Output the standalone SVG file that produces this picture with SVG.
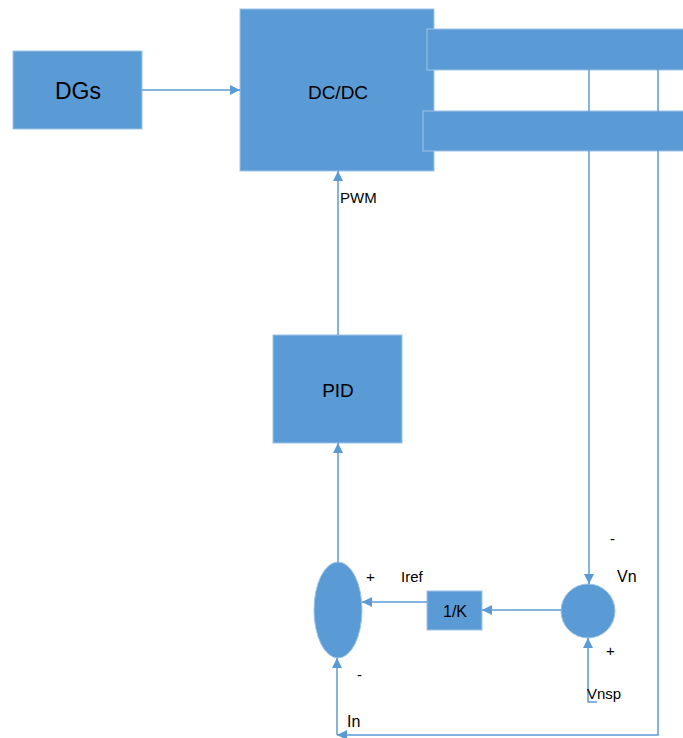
<svg xmlns="http://www.w3.org/2000/svg" width="683" height="738" viewBox="0 0 683 738">
<style>
.blk{fill:#5B9BD5;stroke:#9DC3E6;stroke-width:1}
.ln{fill:none;stroke:#5B9BD5;stroke-width:1.5}
.t{font-family:"Liberation Sans",Arial,sans-serif;fill:#000}
</style>
<defs>
<marker id="ah" viewBox="0 0 10 10" refX="10" refY="5" markerWidth="10" markerHeight="10" markerUnits="userSpaceOnUse" orient="auto">
<path d="M0,0 L10,5 L0,10 Z" fill="#5B9BD5"/>
</marker>
</defs>
<rect width="683" height="738" fill="#fff"/>
<g id="dgs"><rect class="blk" x="13" y="51" width="129" height="78"/><text class="t" x="78" y="99" font-size="23" text-anchor="middle">DGs</text></g>
<g id="dcdc"><rect class="blk" x="240" y="9" width="194" height="162"/><text class="t" x="338" y="99" font-size="19" text-anchor="middle">DC/DC</text></g>
<g id="bus1"><rect class="blk" x="427" y="29" width="260" height="41"/></g>
<g id="bus2"><rect class="blk" x="423" y="111" width="264" height="40"/></g>
<g id="pid"><rect class="blk" x="273" y="335" width="129" height="108"/><text class="t" x="338" y="397" font-size="19" text-anchor="middle">PID</text></g>
<g id="sum1"><ellipse class="blk" cx="338" cy="610" rx="24" ry="48"/></g>
<g id="gain"><rect class="blk" x="427" y="591" width="55" height="39"/><text class="t" x="455" y="617" font-size="16" text-anchor="middle">1/K</text></g>
<g id="sum2"><circle class="blk" cx="588" cy="611" r="27"/></g>
<g id="connectors">
<path class="ln" d="M142,90 H240" marker-end="url(#ah)"/>
<path class="ln" d="M338,335 V171" marker-end="url(#ah)"/>
<path class="ln" d="M338,562 V443" marker-end="url(#ah)"/>
<path class="ln" d="M589,69 V584" marker-end="url(#ah)"/>
<path class="ln" d="M561,610 H482" marker-end="url(#ah)"/>
<path class="ln" d="M427,602 H362" marker-end="url(#ah)"/>
<path class="ln" d="M597,702 H588 V638" marker-end="url(#ah)"/>
<path class="ln" d="M658,69 V735 H337" marker-end="url(#ah)"/>
<path class="ln" d="M337,735 V658" marker-end="url(#ah)"/>
</g>
<g id="labels">
<text class="t" x="340" y="203" font-size="15">PWM</text>
<text class="t" x="366" y="582" font-size="15">+</text>
<text class="t" x="401" y="582" font-size="15">Iref</text>
<text class="t" x="610" y="544" font-size="15">-</text>
<text class="t" x="617" y="582" font-size="16">Vn</text>
<text class="t" x="606" y="656" font-size="15">+</text>
<text class="t" x="587" y="699" font-size="15">Vnsp</text>
<text class="t" x="357" y="680" font-size="15">-</text>
<text class="t" x="347" y="727" font-size="16">In</text>
</g>
</svg>
